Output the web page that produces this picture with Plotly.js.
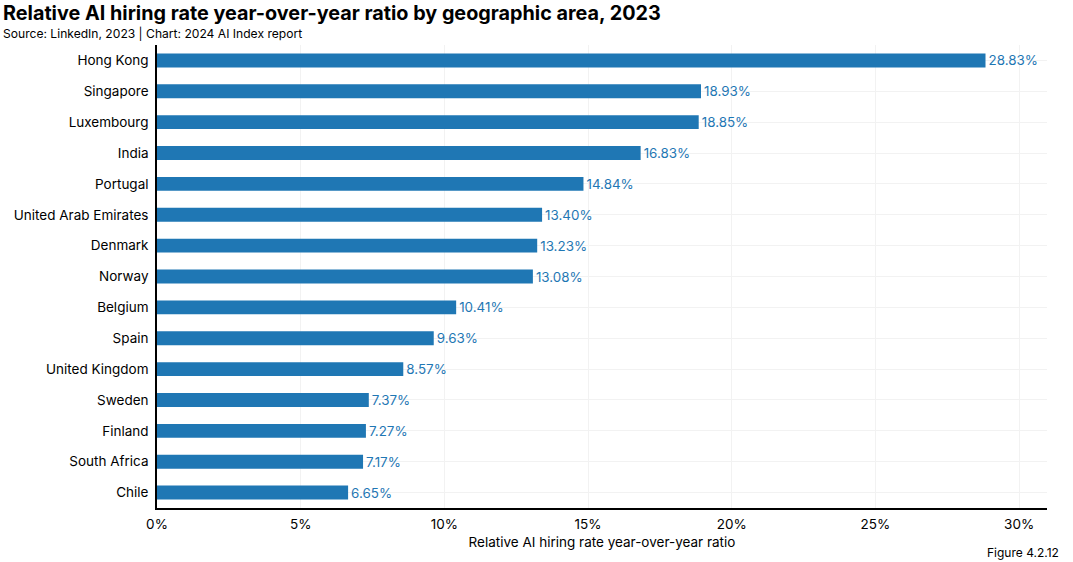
<!DOCTYPE html>
<html>
<head>
<meta charset="utf-8">
<script src="https://cdn.plot.ly/plotly-3.0.1.min.js"></script>
<style>html,body{margin:0;padding:0;background:#fff;}#chart{width:1073px;height:562px;}</style>
</head>
<body>
<div id="chart"></div>
<script>
const countries = ["Hong Kong","Singapore","Luxembourg","India","Portugal","United Arab Emirates","Denmark","Norway","Belgium","Spain","United Kingdom","Sweden","Finland","South Africa","Chile"];
const values = [28.83,18.93,18.85,16.83,14.84,13.40,13.23,13.08,10.41,9.63,8.57,7.37,7.27,7.17,6.65];
const tickVals = [0,5,10,15,20,25,30];
const tickLabels = ["0%","5%","10%","15%","20%","25%","30%"];

const FONT = "Inter, 'Open Sans', 'Noto Sans', sans-serif";
const BLUE = "#1f77b4";

const trace = {
  type: "bar",
  orientation: "h",
  y: countries,
  x: values,
  width: 0.45,
  marker: {color: BLUE},
  text: values.map(v => v.toFixed(2) + "%"),
  textposition: "outside",
  constraintext: "none",
  cliponaxis: false,
  textfont: {family: FONT, size: 13.4, color: BLUE},
  hoverinfo: "none"
};

const layout = {
  width: 1073, height: 562,
  margin: {l: 157, r: 26, t: 45, b: 54},
  paper_bgcolor: "#fff", plot_bgcolor: "#fff",
  font: {family: FONT, color: "#000", size: 13},
  showlegend: false,
  bargap: 0.55,
  xaxis: {
    range: [0, 30.97],
    tickvals: tickVals, ticktext: tickLabels,
    showgrid: true, gridcolor: "#f2f2f2", gridwidth: 1,
    zeroline: false,
    showline: true, linecolor: "#000", linewidth: 2,
    ticks: "outside", ticklen: 3, tickcolor: "rgba(0,0,0,0)",
    tickfont: {family: FONT, size: 13.5, color: "#000"},
    title: {text: "Relative AI hiring rate year-over-year ratio", font: {family: FONT, size: 13.5, color: "#000"}, standoff: 6}
  },
  yaxis: {
    type: "category",
    autorange: false,
    range: [14.5, -0.5],
    showgrid: true, gridcolor: "#f2f2f2",
    showline: true, linecolor: "#000", linewidth: 2,
    ticks: "", ticksuffix: " ",
    tickfont: {family: FONT, size: 13.5, color: "#000"}
  },
  annotations: [
    {xref: "paper", yref: "paper", x: -157/890, y: 1, yshift: 46, xanchor: "left", yanchor: "top", xshift: 1,
     text: "<b>Relative AI hiring rate year-over-year ratio by geographic area, 2023</b>",
     showarrow: false, font: {family: FONT, size: 19.8, color: "#000"}},
    {xref: "paper", yref: "paper", x: -157/890, y: 1, yshift: 21, xanchor: "left", yanchor: "top", xshift: 1,
     text: "Source: LinkedIn, 2023 | Chart: 2024 AI Index report",
     showarrow: false, font: {family: FONT, size: 12.1, color: "#000"}},
    {xref: "paper", yref: "paper", x: 1, y: 0, xshift: 14, yshift: -54, xanchor: "right", yanchor: "bottom",
     text: "Figure 4.2.12",
     showarrow: false, font: {family: FONT, size: 12, color: "#000"}}
  ]
};

Plotly.newPlot("chart", [trace], layout, {displayModeBar: false, staticPlot: true});
</script>
</body>
</html>
